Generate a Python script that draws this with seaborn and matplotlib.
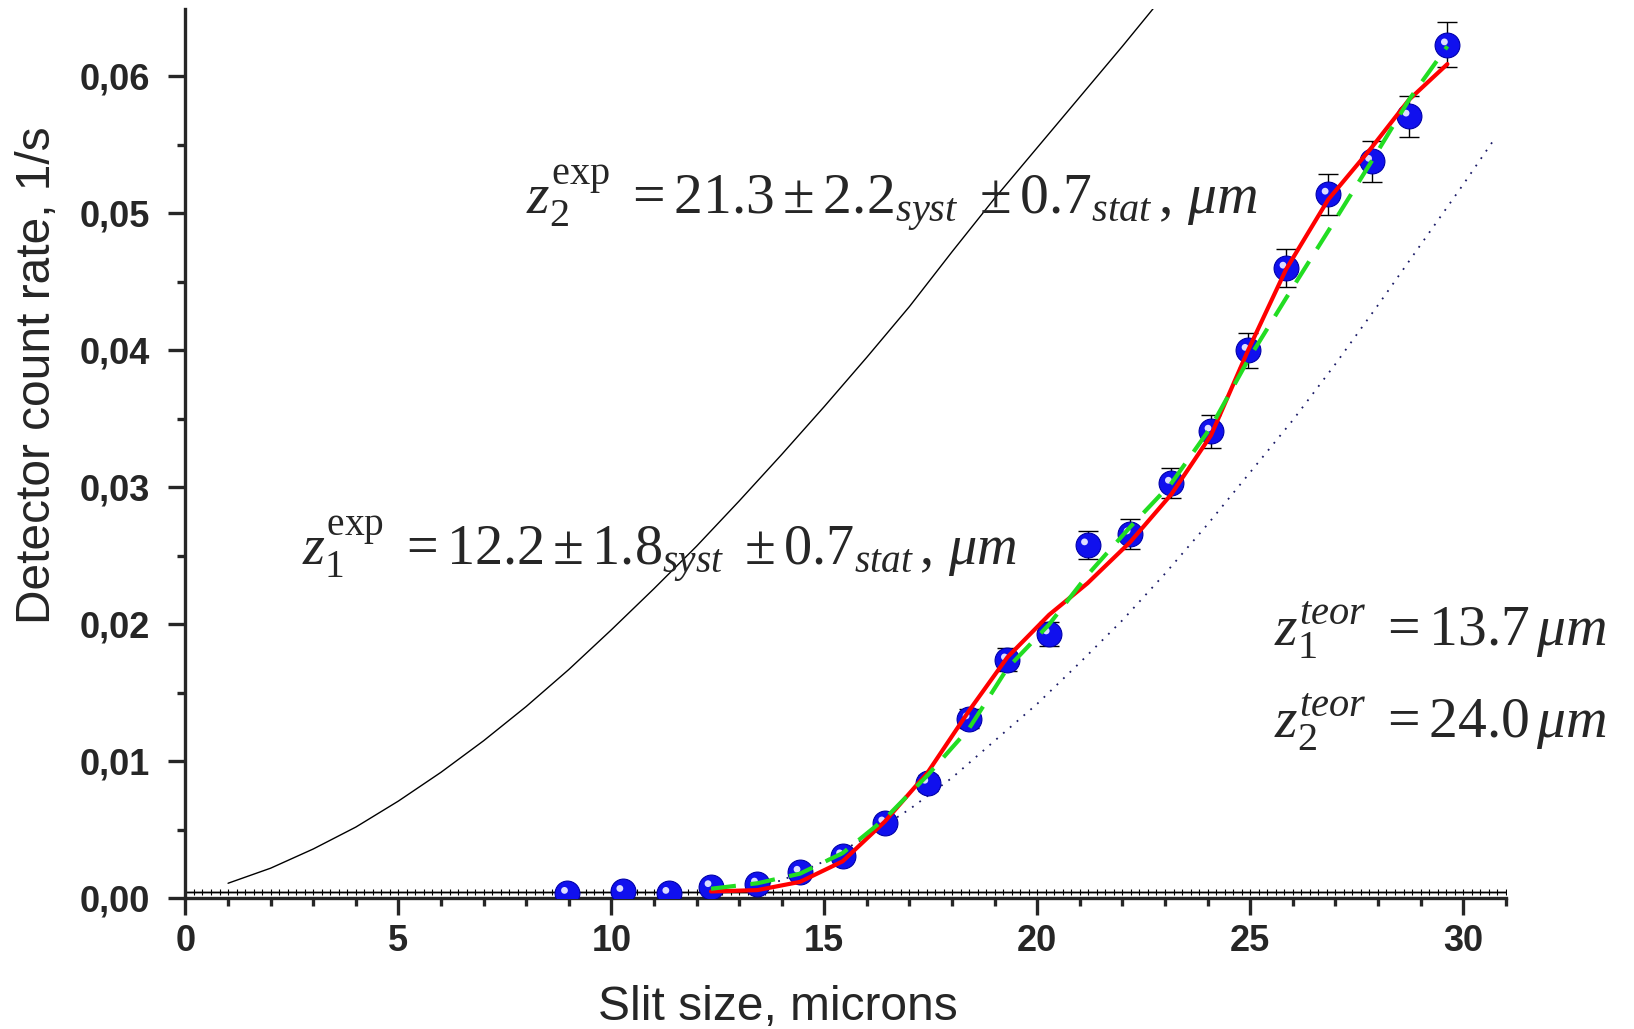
import numpy as np
import matplotlib
matplotlib.use("Agg")
import matplotlib.pyplot as plt
import matplotlib.transforms as mtransforms
from matplotlib.ticker import MultipleLocator, FuncFormatter
import pandas as pd
import seaborn as sns

# measured points
slit = [8.97, 10.27, 11.35, 12.34, 13.43, 14.43, 15.43, 16.42, 17.43, 18.40, 19.30,
        20.28, 21.18, 22.18, 23.15, 24.08, 24.95, 25.84, 26.83, 27.85, 28.73, 29.63]
rate = [0.00036, 0.0005, 0.00036, 0.00085, 0.00104, 0.0019, 0.0031, 0.0055, 0.0084,
        0.0131, 0.0174, 0.0193, 0.0258, 0.0266, 0.0303, 0.0341, 0.0400, 0.0460,
        0.0514, 0.0538, 0.0571, 0.0623]
rate_err = [0.0002, 0.0002, 0.0002, 0.0003, 0.0003, 0.0004, 0.0005, 0.0005, 0.0006,
            0.0007, 0.00084, 0.00089, 0.00103, 0.00107, 0.0011, 0.0012, 0.0013,
            0.0014, 0.0015, 0.0015, 0.0015, 0.00164]

# fit curves evaluated at the measured slit sizes (from 12.34 on)
fit_x = slit[3:]
fit_red = [0.0005, 0.0006, 0.0012, 0.0027, 0.0056, 0.0092, 0.0137, 0.0176, 0.0207,
           0.0230, 0.0260, 0.0295, 0.0338, 0.0400, 0.0459, 0.0510, 0.0548, 0.0583, 0.0609]
fit_green = [0.0007, 0.0011, 0.0018, 0.0033, 0.0058, 0.0090, 0.0124, 0.0168, 0.0200,
             0.0236, 0.0271, 0.0303, 0.0344, 0.0393, 0.0438, 0.0487, 0.0538, 0.0583, 0.0622]

# single-slit (no levels) curve
free_x = [1, 2, 3, 4, 5, 6, 7, 8, 9, 10, 11, 12, 13, 14, 15, 16, 17, 18, 19, 20, 21, 22, 23]
free_y = [0.0011, 0.0022, 0.0036, 0.0052, 0.0071, 0.0092, 0.0115, 0.0140, 0.0167, 0.0196,
          0.0226, 0.0257, 0.0290, 0.0324, 0.0359, 0.0395, 0.0432, 0.0472, 0.0511, 0.0548,
          0.0585, 0.0622, 0.0660]

# theoretical curve (dotted)
teor_x = [13.5, 14, 15, 16, 17, 18, 19, 20, 21, 22, 23, 24, 25, 26, 27, 28, 29, 30, 30.75]
teor_y = [0.0010, 0.0013, 0.0027, 0.0045, 0.0065, 0.0088, 0.0115, 0.0142, 0.0172, 0.0203,
          0.0237, 0.0273, 0.0311, 0.0349, 0.0390, 0.0433, 0.0477, 0.0521, 0.0555]

background = 0.00045

sns.set_style("ticks")
plt.rcParams['font.family'] = ['Liberation Sans', 'DejaVu Sans']
plt.rcParams['mathtext.fontset'] = 'custom'
plt.rcParams['mathtext.rm'] = 'Liberation Serif'
plt.rcParams['mathtext.it'] = 'Liberation Serif:italic'
plt.rcParams['mathtext.bf'] = 'Liberation Serif:bold'

fig = plt.figure(figsize=(16.34, 10.29), dpi=100)
ax = fig.add_axes([0.1135, 0.127, 0.808, 0.864])

df = pd.DataFrame({"slit": slit, "rate": rate, "err": rate_err})

# background level
ax.axhline(background, color='#999999', lw=2.0, zorder=1)
bg_x = np.arange(0, 31.01, 0.2)
ax.plot(bg_x, np.full_like(bg_x, background), color='black', lw=0.8,
        marker='|', markersize=5, markeredgewidth=0.8, zorder=2)

sns.lineplot(x=free_x, y=free_y, ax=ax, color='black', lw=1.0, sort=False,
             estimator=None, zorder=3)
sns.lineplot(x=teor_x, y=teor_y, ax=ax, color='#1a1a66', lw=1.3, sort=False,
             estimator=None, zorder=3, linestyle=(0, (1, 4)))

ax.errorbar(df["slit"], df["rate"], yerr=df["err"], fmt='none', ecolor='black',
            elinewidth=1.0, capsize=7, capthick=1.0, zorder=4)
sns.scatterplot(data=df, x="slit", y="rate", ax=ax, color='#1010ee', s=320,
                edgecolor='#0000aa', linewidth=0.8, zorder=5)
hl = mtransforms.offset_copy(ax.transData, fig=fig, x=-3, y=3, units='dots')
ax.scatter(df["slit"], df["rate"], s=24, color='#dcdcff', edgecolor='none',
           transform=hl, zorder=6)

sns.lineplot(x=fit_x, y=fit_red, ax=ax, color='#ff0000', lw=3, sort=False,
             estimator=None, zorder=7)
sns.lineplot(x=fit_x, y=fit_green, ax=ax, color='#22dd22', lw=3, sort=False,
             estimator=None, zorder=8, linestyle=(0, (6, 3.5)))

ax.set_xlim(0, 31)
ax.set_ylim(0, 0.0649)
ax.xaxis.set_major_locator(MultipleLocator(5))
ax.xaxis.set_minor_locator(MultipleLocator(1))
ax.yaxis.set_major_locator(MultipleLocator(0.01))
ax.yaxis.set_minor_locator(MultipleLocator(0.005))
ax.yaxis.set_major_formatter(FuncFormatter(lambda v, p: f"{v:.2f}".replace('.', ',')))

for s in ['top', 'right']:
    ax.spines[s].set_visible(False)
for s in ['left', 'bottom']:
    ax.spines[s].set_linewidth(2.4)
ax.tick_params(which='major', direction='out', length=12.5, width=2.4, labelsize=26)
ax.tick_params(which='minor', direction='out', length=6, width=2.4)
ax.tick_params(axis='x', which='major', pad=6)
ax.tick_params(axis='y', which='major', pad=13)
for lab in ax.get_xticklabels() + ax.get_yticklabels():
    lab.set_fontweight('bold')

ax.set_xlabel("Slit size, microns", fontsize=34.5)
ax.set_ylabel("Detector count rate, 1/s", fontsize=34.5)
ax.xaxis.set_label_coords(0.449, -0.097)
ax.yaxis.set_label_coords(-0.095, 0.588)

ax.text(8.0, 0.0499, r'$z_2^{\rm exp}\ = 21.3 \pm 2.2_{syst}\ \pm 0.7_{stat}\,,\,\mu m$',
        fontsize=41.5, ha='left', va='baseline', zorder=9)
ax.text(2.74, 0.0243, r'$z_1^{\rm exp}\ = 12.2 \pm 1.8_{syst}\ \pm 0.7_{stat}\,,\,\mu m$',
        fontsize=40.5, ha='left', va='baseline', zorder=9)
ax.text(25.55, 0.0184, r'$z_1^{teor}\ = 13.7\,\mu m$', fontsize=41.5,
        ha='left', va='baseline', clip_on=False)
ax.text(25.55, 0.0117, r'$z_2^{teor}\ = 24.0\,\mu m$', fontsize=41.5,
        ha='left', va='baseline', clip_on=False)

fig.savefig("out.png", dpi=100)
